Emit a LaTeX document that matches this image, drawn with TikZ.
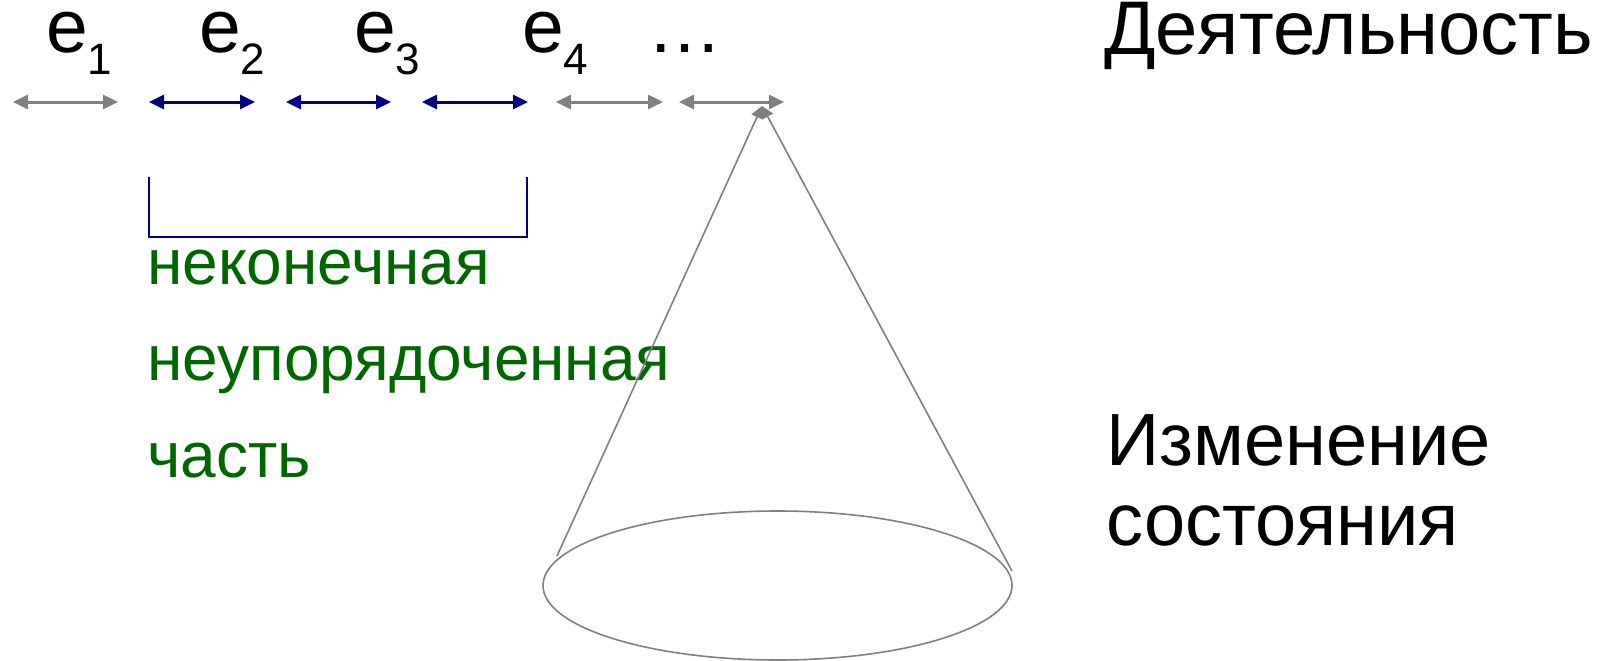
\documentclass[tikz,border=0pt]{standalone}
\usepackage{fontspec}
\setmainfont{Liberation Sans}
\usetikzlibrary{arrows.meta,shapes.geometric}
\definecolor{evgray}{HTML}{808080}
\definecolor{evnavy}{HTML}{000080}
\definecolor{evgreen}{HTML}{006600}
\tikzset{
  evarrow/.style={line width=3pt, {Triangle[length=15pt,width=14pt]}-{Triangle[length=15pt,width=14pt]}},
  grayarrow/.style={evarrow, draw=evgray, fill=evgray},
  navyarrow/.style={evarrow, draw=evnavy, fill=evnavy},
  elabel/.style={anchor=base west, inner sep=0pt, font=\fontsize{75}{75}\selectfont},
  bigtext/.style={anchor=base west, inner sep=0pt, align=left, font=\fontsize{74}{80}\selectfont},
  greentext/.style={anchor=base west, inner sep=0pt, align=left, text=evgreen, font=\fontsize{64}{96.5}\selectfont},
  conestroke/.style={draw=evgray, line width=1.6pt},
  bracketline/.style={draw=evnavy, line width=2pt}
}
\newcommand{\evsub}[1]{\raisebox{-21pt}{\fontsize{44}{44}\selectfont #1}}
\begin{document}
\begin{tikzpicture}[x=1pt,y=-1pt]
\useasboundingbox (0,0) rectangle (1601,661);
% labels
\node[elabel] (e1) at (46,53) {e\evsub{1}};
\node[elabel] (e2) at (199,53) {e\evsub{2}};
\node[elabel] (e3) at (354,53) {e\evsub{3}};
\node[elabel] (e4) at (522,53) {e\evsub{4}};
\node[elabel] (dots) at (647,53) {…};
% arrow end points
\coordinate (a1s) at (13,102);  \coordinate (a1e) at (118,102);
\coordinate (a2s) at (149,102); \coordinate (a2e) at (255,102);
\coordinate (a3s) at (286,102); \coordinate (a3e) at (391,102);
\coordinate (a4s) at (422,102); \coordinate (a4e) at (528,102);
\coordinate (a5s) at (556,102); \coordinate (a5e) at (663,102);
\coordinate (a6s) at (679,102); \coordinate (a6e) at (784,102);
\draw[grayarrow] (a1s) -- (a1e);
\draw[navyarrow] (a2s) -- (a2e);
\draw[navyarrow] (a3s) -- (a3e);
\draw[navyarrow] (a4s) -- (a4e);
\draw[grayarrow] (a5s) -- (a5e);
\draw[grayarrow] (a6s) -- (a6e);
% bracket
\coordinate (bl) at (149,177);
\coordinate (br) at (527,177);
\draw[bracketline] (bl) -- (149,237) -- (527,237) -- (br);
% green text (base anchor = last line)
\node[greentext] (part) at (147,477) {неконечная\\неупорядоченная\\часть};
% right texts
\node[bigtext, font=\fontsize{76}{80}\selectfont] (act) at (1104,55) {Деятельность};
\node[bigtext] (chg) at (1106,545) {Изменение\\состояния};
% cone
\node[draw=evgray, line width=1.6pt, ellipse, minimum width=469pt, minimum height=149pt, inner sep=0pt] (base) at (777.5,585.5) {};
\coordinate (apex) at (762,106);
\coordinate (cl) at (557,556);
\coordinate (cr) at (1012,571);
\draw[conestroke, -{Triangle[length=12pt,width=12pt]}] (cl) -- (apex);
\draw[conestroke, -{Triangle[length=12pt,width=12pt]}] (cr) -- (apex);
\end{tikzpicture}
\end{document}
